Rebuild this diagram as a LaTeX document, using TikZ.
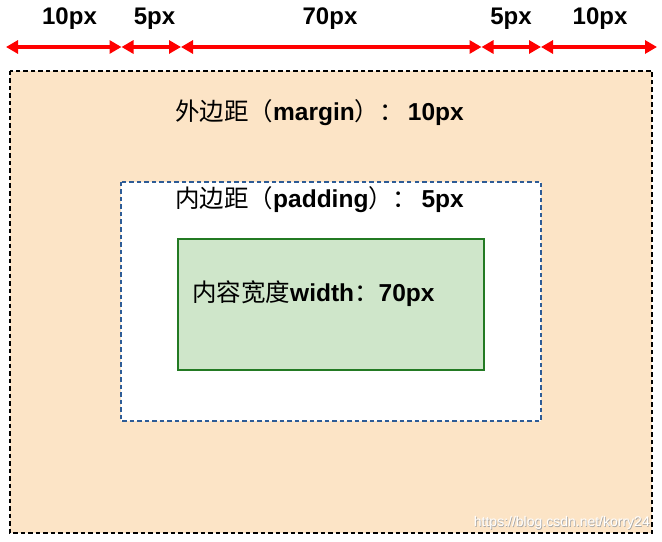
\documentclass[tikz,border=0pt]{standalone}
\usepackage{fontspec}
\setmainfont{Liberation Sans}
\newfontfamily\cjk{Noto Sans CJK SC}
\usetikzlibrary{arrows.meta}
\definecolor{peach}{HTML}{FCE4C6}
\definecolor{greenfill}{HTML}{CFE6CA}
\definecolor{greenline}{HTML}{237A23}
\definecolor{blueline}{HTML}{2E5C96}
\definecolor{arrowred}{HTML}{FF0000}
\newcommand{\cjkl}[1]{\makebox[1em][r]{\cjk\mdseries #1}}
\newcommand{\cjkr}[1]{\makebox[1em][l]{\cjk\mdseries #1}}
\begin{document}
\begin{tikzpicture}[x=1bp,y=-1bp,
  dimarrow/.style={draw=arrowred, line width=3.2bp,
    {Triangle[length=12bp,width=13bp]}-{Triangle[length=12bp,width=13bp]}},
  toplabel/.style={font=\fontsize{24bp}{28bp}\selectfont\bfseries, inner sep=0pt, anchor=center},
  boxtext/.style={font=\fontsize{24.5bp}{28bp}\selectfont\bfseries, inner sep=0pt, anchor=west},
  marginbox/.style={draw=black, fill=peach, line width=1.8bp, dash pattern=on 4.5bp off 3bp},
  paddingbox/.style={draw=blueline, fill=white, line width=1.6bp, dash pattern=on 4.5bp off 3bp},
  contentbox/.style={draw=greenline, fill=greenfill, line width=1.6bp},
  wm/.style={font=\fontsize{14bp}{16bp}\selectfont, inner sep=0pt, anchor=east}
]
\useasboundingbox (0,0) rectangle (662,542);
\fill[white] (0,0) rectangle (662,542);

% boxes
\path[marginbox] (10,71) rectangle (652,533);
\path[paddingbox] (121,182) rectangle (541,421);
\node[contentbox, minimum width=306bp, minimum height=131bp, inner sep=0pt, anchor=north west] (content) at (177,238) {};

% dimension coordinates
\coordinate (d0) at (6,47);
\coordinate (d1) at (121.5,47);
\coordinate (d2) at (181,47);
\coordinate (d3) at (481.5,47);
\coordinate (d4) at (541,47);
\coordinate (d5) at (657,47);

\draw[dimarrow] (d0) -- (d1);
\draw[dimarrow] (d1) -- (d2);
\draw[dimarrow] (d2) -- (d3);
\draw[dimarrow] (d3) -- (d4);
\draw[dimarrow] (d4) -- (d5);

\node[toplabel] (l1) at (69.5,19) {10px};
\node[toplabel] (l2) at (154.5,19) {5px};
\node[toplabel] (l3) at (330,19) {70px};
\node[toplabel] (l4) at (511,19) {5px};
\node[toplabel] (l5) at (600,19) {10px};

% texts
\node[boxtext] (margintext) at (175,113) {{\cjk\mdseries 外边距}\cjkl{（}margin\cjkr{）}\cjkr{：}\,10px};
\node[boxtext] (paddingtext) at (175,200) {{\cjk\mdseries 内边距}\cjkl{（}padding\cjkr{）}\cjkr{：}\,5px};
\node[boxtext] (contenttext) at (192,294) {{\cjk\mdseries 内容宽度}width\cjkr{：}70px};

% watermark
\node[wm, text=black!35] (wmshadow) at (650.7,523.7) {https://blog.csdn.net/korry24};
\node[wm, text=white] (wmtext) at (650,523) {https://blog.csdn.net/korry24};
\end{tikzpicture}
\end{document}
